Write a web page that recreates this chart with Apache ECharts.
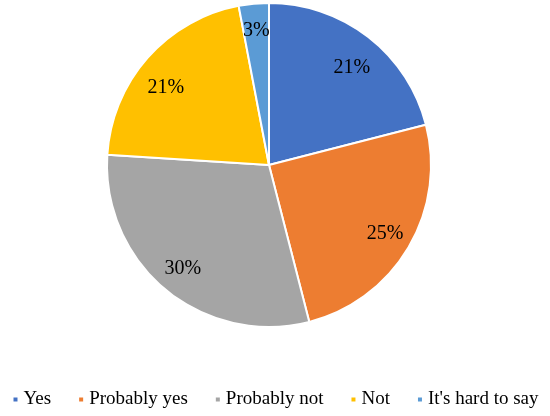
<!DOCTYPE html>
<html>
<head>
<meta charset="utf-8">
<script src="https://cdn.jsdelivr.net/npm/echarts@6/dist/echarts.min.js"></script>
<style>
  html, body { margin: 0; padding: 0; background: #fff; }
  #main { width: 550px; height: 416px; }
</style>
</head>
<body>
<div id="main"></div>
<script>
var categories = ['Yes', 'Probably yes', 'Probably not', 'Not', "It's hard to say"];
var shares = [21, 25, 30, 21, 3];
var colors = ['#4472C4', '#ED7D31', '#A5A5A5', '#FFC000', '#5B9BD5'];

var chart = echarts.init(document.getElementById('main'));

var pieData = categories.map(function (name, i) {
    return { name: name, value: shares[i] };
});

// small nudges so the two 21% labels sit where Excel put them
var labelData = pieData.map(function (d, i) {
    var item = { name: d.name, value: d.value };
    if (i === 0) item.label = { offset: [0, 9] };
    if (i === 3) item.label = { offset: [-2, 12] };
    return item;
});

var option = {
    color: colors,
    animation: false,
    legend: {
        data: categories,
        bottom: 2,
        left: 'center',
        icon: 'rect',
        itemWidth: 6,
        itemHeight: 6,
        itemGap: 26,
        textStyle: {
            fontFamily: 'Liberation Serif',
            fontSize: 19,
            color: '#000'
        }
    },
    series: [{
        name: 'answers',
        type: 'pie',
        center: [269, 165],
        radius: [0, 162],
        startAngle: 90,
        clockwise: true,
        data: pieData,
        itemStyle: { borderColor: '#fff', borderWidth: 2 },
        label: { show: false },
        labelLine: { show: false },
        emphasis: { disabled: true }
    }, {
        // transparent copy, used only to place the percent labels further out
        name: 'labels',
        type: 'pie',
        center: [269, 165],
        radius: [0, 264],
        startAngle: 90,
        clockwise: true,
        silent: true,
        data: labelData,
        itemStyle: { color: 'rgba(0,0,0,0)', borderWidth: 0 },
        label: {
            show: true,
            position: 'inside',
            formatter: '{c}%',
            fontFamily: 'Liberation Serif',
            fontSize: 20,
            color: '#000'
        },
        labelLine: { show: false },
        emphasis: { disabled: true }
    }]
};

chart.setOption(option);
</script>
</body>
</html>
